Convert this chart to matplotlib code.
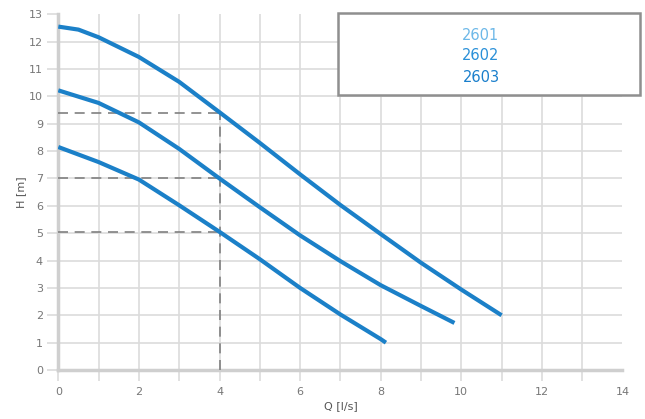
import numpy as np
import matplotlib
matplotlib.use("Agg")
import matplotlib.pyplot as plt

# Curvas H-Q
q_2603 = [0, 0.5, 1, 2, 3, 4, 5, 6, 7, 8, 9, 10, 11]
h_2603 = [12.55, 12.44, 12.16, 11.44, 10.53, 9.42, 8.3, 7.15, 6.03, 4.97, 3.92, 2.94, 2.0]
q_2602 = [0, 1, 2, 3, 4, 5, 6, 7, 8, 9, 9.83]
h_2602 = [10.22, 9.76, 9.05, 8.08, 7.0, 5.95, 4.92, 3.98, 3.1, 2.34, 1.72]
q_2601 = [0, 1, 2, 3, 4, 5, 6, 7, 8, 8.13]
h_2601 = [8.15, 7.6, 6.96, 6.02, 5.05, 4.05, 3.0, 2.03, 1.13, 1.0]

modelos = ["2601", "2602", "2603"]
colores_texto = ["#6db8e8", "#2a90d8", "#1a7fcc"]

q_punto = 4
h_punto = [9.4, 7.0, 5.05]

color_linea = "#1b80c8"
gris = "#cfcfcf"

fig = plt.figure(figsize=(6.45, 4.19), dpi=100)
ax = fig.add_axes([0.0904, 0.1169, 0.8747, 0.849])

for q, h in [(q_2601, h_2601), (q_2602, h_2602), (q_2603, h_2603)]:
    ax.plot(q, h, color=color_linea, lw=3, solid_capstyle="butt", solid_joinstyle="round", zorder=4)

# lineas discontinuas del punto de trabajo
for h in h_punto:
    ax.plot([0, q_punto], [h, h], color="#808080", lw=1.2, ls=(0, (6, 4)), zorder=3)
ax.plot([q_punto, q_punto], [0, max(h_punto)], color="#808080", lw=1.2, ls=(0, (6, 4)), zorder=3)

ax.set_xlim(0, 14)
ax.set_ylim(0, 13)
ax.set_xticks(range(0, 15))
ax.set_xticklabels([str(i) if i % 2 == 0 else "" for i in range(0, 15)])
ax.set_yticks(range(0, 14))
ax.grid(True, color="#dcdcdc", lw=1.2, zorder=0)
ax.set_axisbelow(True)
ax.xaxis.get_gridlines()[-1].set_visible(False)
ax.yaxis.get_gridlines()[-1].set_visible(False)
ax.xaxis.get_major_ticks()[-1].tick1line.set_visible(False)

ax.tick_params(axis="x", length=8, width=1.2, color="#dcdcdc", labelsize=8, labelcolor="#777777", pad=4)
ax.tick_params(axis="y", length=8, width=1.2, color="#dcdcdc", labelsize=8, labelcolor="#777777", pad=3)

for s in ["top", "right"]:
    ax.spines[s].set_visible(False)
for s in ["left", "bottom"]:
    ax.spines[s].set_color(gris)
    ax.spines[s].set_linewidth(2.5)

ax.set_xlabel("Q [l/s]", fontsize=8, color="#555555", labelpad=3)
ax.set_ylabel("H [m]", fontsize=8, color="#555555", labelpad=2)

# cuadro de leyenda
caja = plt.Rectangle((338 / 645, 1 - 95 / 419), 302 / 645, 82 / 419, transform=fig.transFigure,
                     facecolor="white", edgecolor="#8f8f8f", lw=1.8, zorder=5)
fig.patches.append(caja)
for i, (m, c) in enumerate(zip(modelos, colores_texto)):
    fig.text(481 / 645, 1 - (35 + 21 * i) / 419, m, color=c, fontsize=10.5,
             ha="center", va="center", zorder=6)

fig.savefig("out.png", dpi=100)
